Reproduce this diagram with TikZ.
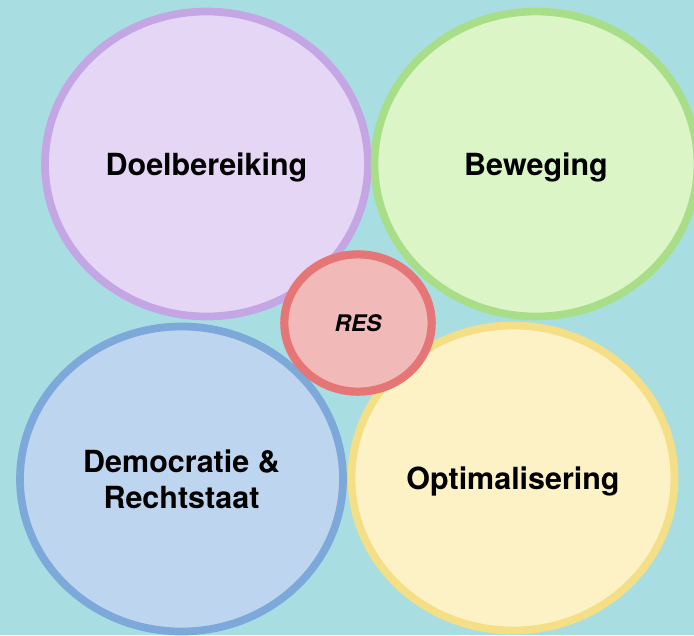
\documentclass[tikz,border=0pt]{standalone}
\usepackage{fontspec}
\setmainfont{TeX Gyre Heros}
\usetikzlibrary{shapes.geometric}

\definecolor{bgteal}{HTML}{A8DEE2}
\definecolor{lilafill}{HTML}{E6D6F6}
\definecolor{lilaline}{HTML}{C4A6E4}
\definecolor{groenfill}{HTML}{DBF5C6}
\definecolor{groenline}{HTML}{A9DE89}
\definecolor{blauwfill}{HTML}{BDD5EE}
\definecolor{blauwline}{HTML}{7DA8DA}
\definecolor{geelfill}{HTML}{FDF2C5}
\definecolor{geelline}{HTML}{F4DE86}
\definecolor{roodfill}{HTML}{F2B9B9}
\definecolor{roodline}{HTML}{E67676}

\tikzset{
  bubble/.style={ellipse, draw, inner sep=0pt, line width=6.6pt, text depth=0pt,
    minimum width=9.69cm, minimum height=9.15cm, align=center,
    font=\fontsize{26pt}{30.7pt}\selectfont\bfseries},
  kern/.style={ellipse, draw=roodline, fill=roodfill, inner sep=0pt, line width=7pt,
    minimum width=4.42cm, minimum height=4.12cm, text depth=0pt,
    font=\fontsize{19.5pt}{22pt}\selectfont\bfseries\itshape}
}

\begin{document}
\begin{tikzpicture}[x=0.03cm,y=-0.03cm]
\fill[bgteal] (0,0) rectangle (694,635);
\useasboundingbox (0,0) rectangle (694,635);
% vier velden
\node[bubble, draw=lilaline, fill=lilafill] (doel) at (206.5,164) {Doelbereiking};
\node[bubble, draw=groenline, fill=groenfill] (beweging) at (536,164) {Beweging};
\node[bubble, draw=blauwline, fill=blauwfill] (democratie) at (181.5,479) {Democratie \&\\Rechtstaat};
\node[bubble, draw=geelline, fill=geelfill] (optimal) at (513,478) {Optimalisering};
% midden
\node[kern] (res) at (358,323) {RES};
\end{tikzpicture}
\end{document}
